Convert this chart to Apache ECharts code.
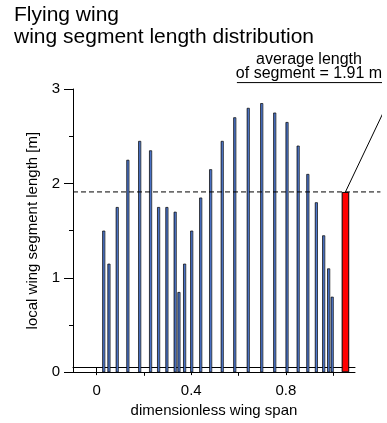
<!DOCTYPE html>
<html>
<head>
<meta charset="utf-8">
<script src="https://cdn.jsdelivr.net/npm/echarts@6/dist/echarts.min.js"></script>
<style>
html,body{margin:0;padding:0;background:#fff;}
#chart{width:387px;height:423px;}
</style>
</head>
<body>
<div id="chart"></div>
<script>
// ---- data ----
var spanPositions = [0.030,0.052,0.087,0.132,0.182,0.228,0.262,0.297,0.332,0.348,0.372,0.402,0.440,0.482,0.531,0.584,0.641,0.698,0.753,0.805,0.852,0.893,0.929,0.960,0.981,0.996];
var segmentLengths = [1.50,1.15,1.75,2.25,2.45,2.35,1.75,1.75,1.70,0.85,1.15,1.50,1.85,2.15,2.45,2.70,2.80,2.85,2.75,2.65,2.40,2.10,1.80,1.45,1.10,0.80];
var averageBarPosition = [1.052];
var averageLength = [1.91];
var xMajorTicks = [0, 0.4, 0.8];
var xMinorTicks = [0.2, 0.6, 1.0];
var xTickLabels = ['0', '0.4', '0.8'];
var yTicks = [0, 1, 2, 3];
var titleLines = ['Flying wing', 'wing segment length distribution'];
var annotationLines = ['average length', 'of segment = 1.91 m'];
// annotation geometry in data units
var leaderEnd = [1.272, 3.068];
var underlineX = [0.593, 1.35];

var FONT = 'Liberation Sans, Arial, sans-serif';
var chart = echarts.init(document.getElementById('chart'), null, {renderer: 'canvas'});

var blueData = spanPositions.map(function (x, i) { return [x, segmentLengths[i]]; });
var redData = averageBarPosition.map(function (x, i) { return [x, averageLength[i]]; });
var avg = averageLength[0];

var option = {
  backgroundColor: '#fff',
  animation: false,
  grid: [
    {left: 73, top: 89, width: 307.45, height: 283.3},
    {left: 73, top: 89, width: 282, height: 283.3},
    {left: 73, top: 89, width: 282, height: 283.3}
  ],
  xAxis: [
    {gridIndex: 0, type: 'value', min: -0.1, max: 1.2, show: false},
    {gridIndex: 0, type: 'value', min: -0.1, max: 1.2, show: false},
    {gridIndex: 1, type: 'value', position: 'bottom', min: -0.1, max: 1.0925,
      axisLine: {show: true, onZero: false, lineStyle: {color: '#000', width: 1}},
      axisTick: {show: true, customValues: xMajorTicks, length: 8, lineStyle: {color: '#000'}},
      axisLabel: {show: true, customValues: xMajorTicks, margin: 16, color: '#000', fontSize: 15, fontFamily: FONT,
        formatter: function (v) { var i = xMajorTicks.indexOf(v); return i >= 0 ? xTickLabels[i] : ''; }},
      splitLine: {show: false},
      name: 'dimensionless wing span', nameLocation: 'middle', nameGap: 31,
      nameTextStyle: {color: '#000', fontSize: 15, fontFamily: FONT}
    },
    {gridIndex: 2, type: 'value', position: 'bottom', min: -0.1, max: 1.0925,
      axisLine: {show: true, onZero: false, lineStyle: {color: '#000', width: 1}},
      axisTick: {show: true, customValues: xMinorTicks, length: 3.5, lineStyle: {color: '#000'}},
      axisLabel: {show: true, customValues: xMinorTicks, color: 'rgba(0,0,0,0)', formatter: function () { return ''; }},
      splitLine: {show: false}
    }
  ],
  yAxis: [
    {gridIndex: 0, type: 'value', position: 'left', min: 0, max: 3, interval: 1,
      axisLine: {show: true, onZero: false, lineStyle: {color: '#000', width: 1}},
      axisTick: {show: true, length: 9, lineStyle: {color: '#000'}},
      minorTick: {show: true, splitNumber: 2, length: 4, lineStyle: {color: '#000'}},
      axisLabel: {margin: 13, color: '#000', fontSize: 15, fontFamily: FONT,
        formatter: function (v) { return yTicks.indexOf(v) >= 0 ? String(v) : ''; }},
      splitLine: {show: false},
      name: 'local wing segment length [m]', nameLocation: 'middle', nameGap: 33,
      nameTextStyle: {color: '#000', fontSize: 15, fontFamily: FONT}
    },
    {gridIndex: 1, type: 'value', min: 0, max: 3, show: false},
    {gridIndex: 2, type: 'value', min: 0, max: 3, show: false}
  ],
  series: [
    {type: 'bar', xAxisIndex: 0, yAxisIndex: 0, data: blueData, barWidth: 3,
      itemStyle: {
        color: new echarts.graphic.LinearGradient(0, 0, 1, 0, [
          {offset: 0, color: '#2f4f96'}, {offset: 0.5, color: '#4a72c8'}, {offset: 1, color: '#7aaaf5'}
        ]),
        borderColor: '#000', borderWidth: 0.7
      }
    },
    {type: 'bar', xAxisIndex: 1, yAxisIndex: 0, data: redData, barWidth: 7.6,
      itemStyle: {color: '#ff0000', borderColor: '#000', borderWidth: 1}
    },
    {type: 'line', xAxisIndex: 0, yAxisIndex: 0, symbol: 'none', silent: true,
      data: [[-0.1, avg], [1.2, avg]],
      lineStyle: {color: '#000', width: 1, type: [5, 3]}
    },
    {type: 'line', xAxisIndex: 0, yAxisIndex: 0, symbol: 'none', silent: true, clip: false,
      data: [[averageBarPosition[0], avg], leaderEnd],
      lineStyle: {color: '#000', width: 1}
    },
    {type: 'line', xAxisIndex: 0, yAxisIndex: 0, symbol: 'none', silent: true, clip: false,
      data: [[underlineX[0], leaderEnd[1]], [underlineX[1], leaderEnd[1]]],
      lineStyle: {color: '#000', width: 1}
    }
  ],
  graphic: [
    {type: 'text', left: 14, top: 5, style: {text: titleLines[0], fill: '#000', font: '21px ' + FONT}},
    {type: 'text', left: 14, top: 27, style: {text: titleLines[1], fill: '#000', font: '21px ' + FONT}},
    {type: 'text', x: 309, y: 60, style: {text: annotationLines[0], fill: '#000', font: '16px ' + FONT, align: 'center', verticalAlign: 'middle'}},
    {type: 'text', x: 309, y: 74, style: {text: annotationLines[1], fill: '#000', font: '16px ' + FONT, align: 'center', verticalAlign: 'middle'}}
  ]
};
chart.setOption(option);
</script>
</body>
</html>
